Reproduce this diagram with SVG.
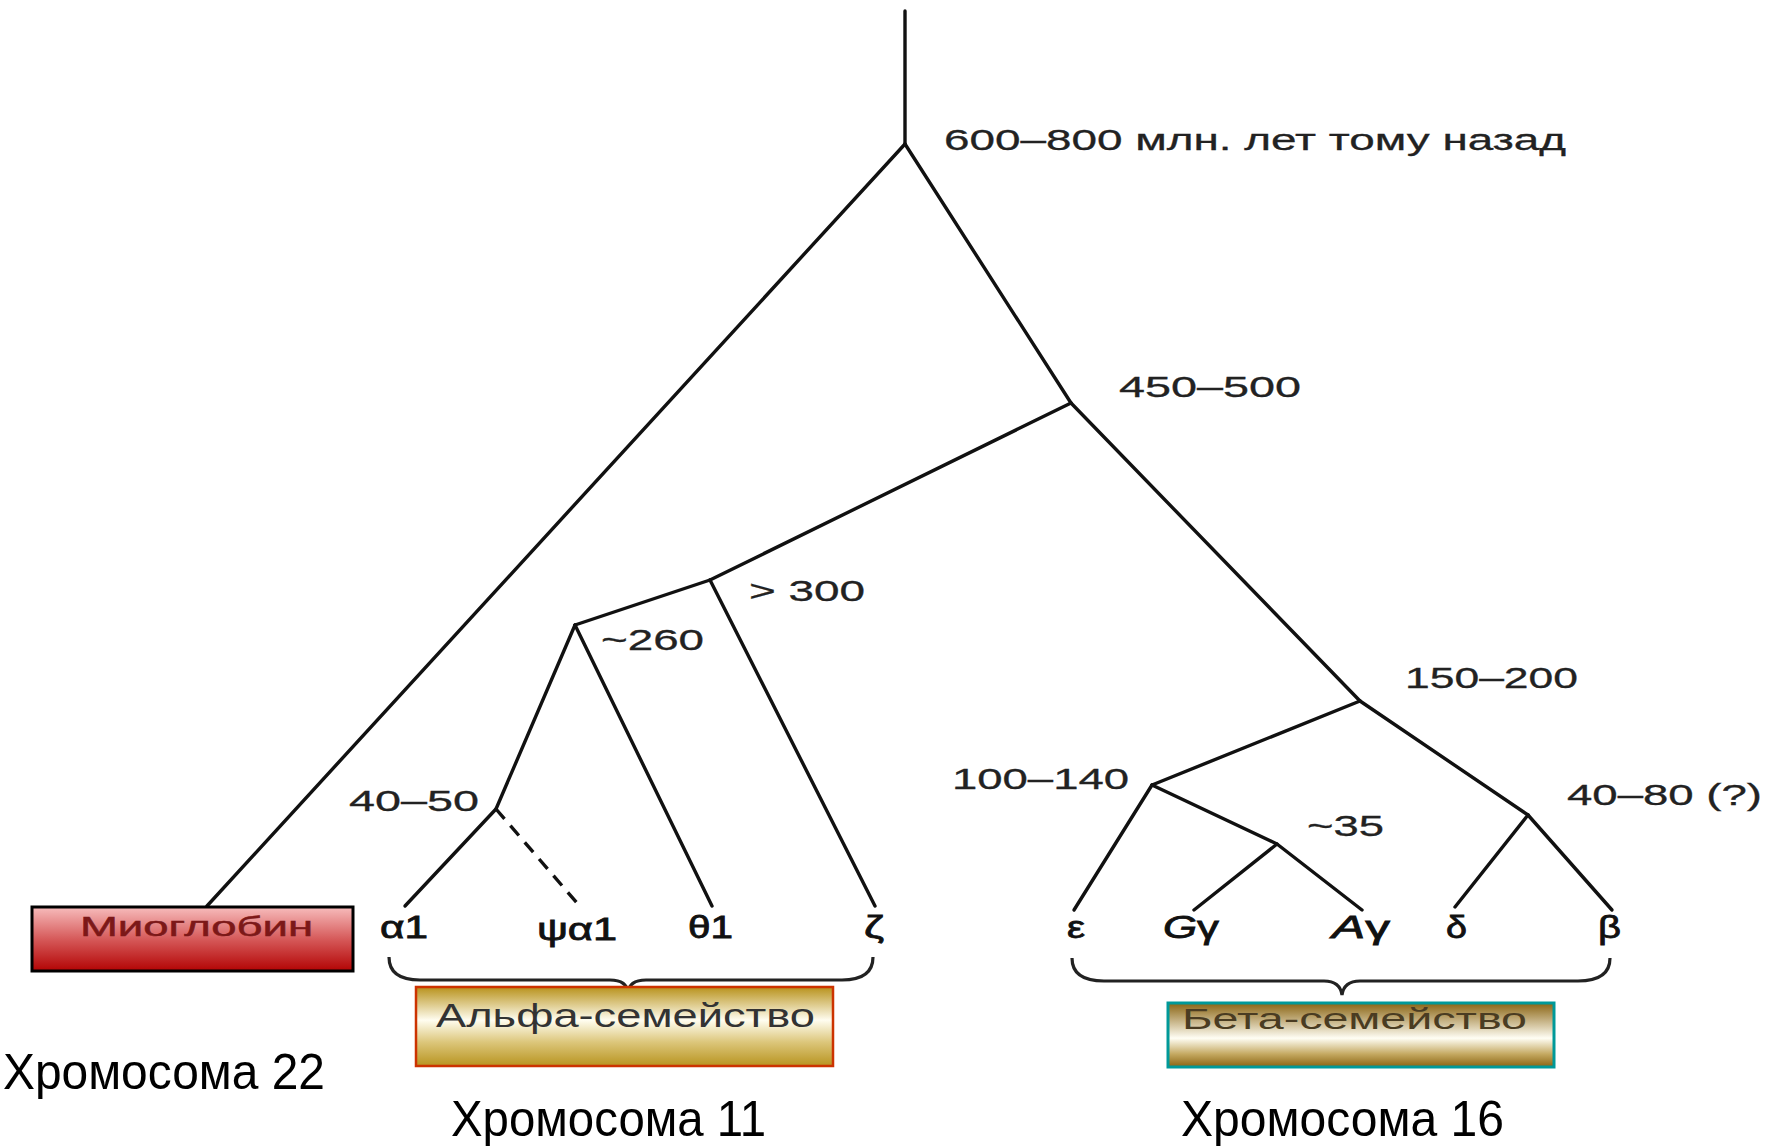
<svg xmlns="http://www.w3.org/2000/svg" width="1767" height="1146" viewBox="0 0 1767 1146">
<style>
.e{fill:none;stroke:#111;stroke-width:3.4;stroke-linecap:round;stroke-linejoin:round}
.d{stroke-dasharray:13 9;stroke-linecap:butt}
.br{fill:none;stroke:#222;stroke-width:3.2}
.t{font-family:"Liberation Sans",Arial,sans-serif;font-size:30px;fill:#222;stroke:#222;stroke-width:0.3}
.g{font-family:"Liberation Sans",Arial,sans-serif;font-size:31px;fill:#111;stroke:#111;stroke-width:0.8}
.c{font-family:"Liberation Sans",Arial,sans-serif;font-size:50px;fill:#000}
</style>
<defs>
<linearGradient id="gr" x1="0" y1="0" x2="0" y2="1">
<stop offset="0" stop-color="#f7bcbc"/><stop offset="0.5" stop-color="#d65a5a"/><stop offset="1" stop-color="#b30404"/>
</linearGradient>
<linearGradient id="ga" x1="0" y1="0" x2="0" y2="1">
<stop offset="0" stop-color="#b8921c"/><stop offset="0.42" stop-color="#fffdf0"/><stop offset="0.7" stop-color="#dcc67a"/><stop offset="1" stop-color="#b89420"/>
</linearGradient>
<linearGradient id="gb" x1="0" y1="0" x2="0" y2="1">
<stop offset="0" stop-color="#8a6412"/><stop offset="0.55" stop-color="#fffef4"/><stop offset="0.8" stop-color="#c4a860"/><stop offset="1" stop-color="#8a6412"/>
</linearGradient>
</defs>
<rect width="1767" height="1146" fill="#fff"/>

<g id="connectors">
<path class="e" d="M905,11 L905,144"/>
<path class="e" d="M905,144 L207,906"/>
<path class="e" d="M905,144 L1071,403"/>
<path class="e" d="M1071,403 L710,580"/>
<path class="e" d="M1071,403 L1360,701"/>
<path class="e" d="M710,580 L875,906"/>
<path class="e" d="M710,580 L575,625"/>
<path class="e" d="M575,625 L712,906"/>
<path class="e" d="M575,625 L496,809"/>
<path class="e" d="M496,809 L405,906"/>
<path class="e d" d="M496,809 L577,903"/>
<path class="e" d="M1360,701 L1152,785"/>
<path class="e" d="M1360,701 L1528,815"/>
<path class="e" d="M1152,785 L1074,910"/>
<path class="e" d="M1152,785 L1277,844 L1362,910"/>
<path class="e" d="M1277,844 L1194,910"/>
<path class="e" d="M1528,815 L1455,907"/>
<path class="e" d="M1528,815 L1612,910"/>
</g>

<g id="braces">
<path class="br" d="M389,957 Q389,980 420,980 L610,980 Q627,980 628,993 Q629,980 646,980 L842,980 Q873,980 873,957"/>
<path class="br" d="M1072,958 Q1072,981 1104,981 L1324,981 Q1340,981 1342,995 Q1344,981 1360,981 L1578,981 Q1610,981 1610,958"/>
</g>

<g id="node-root"><text class="t" x="944" y="150" textLength="622" lengthAdjust="spacingAndGlyphs">600–800 млн. лет тому назад</text></g>
<g id="node-450"><text class="t" x="1119" y="397" textLength="182" lengthAdjust="spacingAndGlyphs">450–500</text></g>
<g id="node-300"><text class="t" x="749" y="601" textLength="116" lengthAdjust="spacingAndGlyphs">&gt; 300</text></g>
<g id="node-260"><text class="t" x="601" y="650" textLength="103" lengthAdjust="spacingAndGlyphs">~260</text></g>
<g id="node-40-50"><text class="t" x="349" y="811" textLength="130" lengthAdjust="spacingAndGlyphs">40–50</text></g>
<g id="node-150"><text class="t" x="1405" y="688" textLength="173" lengthAdjust="spacingAndGlyphs">150–200</text></g>
<g id="node-100"><text class="t" x="952" y="789" textLength="177" lengthAdjust="spacingAndGlyphs">100–140</text></g>
<g id="node-35"><text class="t" x="1307" y="836" textLength="77" lengthAdjust="spacingAndGlyphs">~35</text></g>
<g id="node-40-80"><text class="t" x="1567" y="805" textLength="195" lengthAdjust="spacingAndGlyphs">40–80 (?)</text></g>

<g id="leaf-a1"><text class="g" x="380" y="938" textLength="48" lengthAdjust="spacingAndGlyphs">α1</text></g>
<g id="leaf-pa1"><text class="g" x="537" y="940" textLength="80" lengthAdjust="spacingAndGlyphs">ψα1</text></g>
<g id="leaf-t1"><text class="g" x="688" y="938" textLength="45" lengthAdjust="spacingAndGlyphs">θ1</text></g>
<g id="leaf-z"><text class="g" x="864" y="938" textLength="20" lengthAdjust="spacingAndGlyphs">ζ</text></g>
<g id="leaf-e"><text class="g" x="1067" y="938" textLength="18" lengthAdjust="spacingAndGlyphs">ε</text></g>
<g id="leaf-gg"><text class="g" x="1163" y="938" textLength="56" lengthAdjust="spacingAndGlyphs"><tspan font-style="italic">G</tspan>γ</text></g>
<g id="leaf-ag"><text class="g" x="1332" y="938" textLength="58" lengthAdjust="spacingAndGlyphs"><tspan font-style="italic">A</tspan>γ</text></g>
<g id="leaf-d"><text class="g" x="1446" y="938" textLength="21" lengthAdjust="spacingAndGlyphs">δ</text></g>
<g id="leaf-b"><text class="g" x="1598" y="938" textLength="23" lengthAdjust="spacingAndGlyphs">β</text></g>

<g id="box-myoglobin">
<rect x="32" y="907" width="321" height="64" fill="url(#gr)" stroke="#000" stroke-width="3"/>
<text x="80" y="936" font-family="Liberation Sans, Arial, sans-serif" font-size="28" fill="#7c1818" stroke="#7c1818" stroke-width="0.5" textLength="233" lengthAdjust="spacingAndGlyphs">Миоглобин</text>
</g>
<g id="box-alpha">
<rect x="416" y="987" width="417" height="79" fill="url(#ga)" stroke="#cc3300" stroke-width="2.5"/>
<text x="436" y="1027" font-family="Liberation Sans, Arial, sans-serif" font-size="33" fill="#333" textLength="379" lengthAdjust="spacingAndGlyphs">Альфа-семейство</text>
</g>
<g id="box-beta">
<rect x="1168" y="1003" width="386" height="64" fill="url(#gb)" stroke="#009999" stroke-width="3"/>
<text x="1182" y="1029" font-family="Liberation Sans, Arial, sans-serif" font-size="30" fill="#4a3c22" textLength="345" lengthAdjust="spacingAndGlyphs">Бета-семейство</text>
</g>

<g id="chr22"><text class="c" x="3" y="1089" textLength="322" lengthAdjust="spacingAndGlyphs">Хромосома 22</text></g>
<g id="chr11"><text class="c" x="451" y="1136" textLength="315" lengthAdjust="spacingAndGlyphs">Хромосома 11</text></g>
<g id="chr16"><text class="c" x="1181" y="1136" textLength="323" lengthAdjust="spacingAndGlyphs">Хромосома 16</text></g>
</svg>
